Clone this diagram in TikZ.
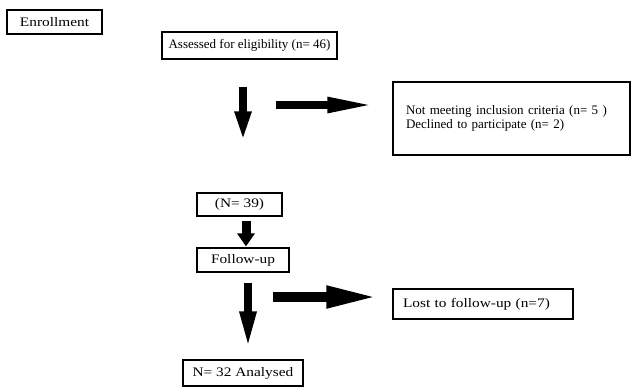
\documentclass[tikz,border=0pt]{standalone}
\usepackage{fontspec}
\setmainfont{Liberation Serif}
\newfontfamily\widefont[FakeStretch=1.18]{Liberation Serif}
\usetikzlibrary{arrows.meta}
\tikzset{
  box/.style={draw, line width=1.2pt, inner sep=0pt, font=\fontsize{13}{14.5}\selectfont},
  widebox/.style={box, font=\fontsize{13}{14.5}\widefont},
  downarrow/.style={line width=8pt, -{Triangle[length=30pt,width=15pt]}},
  sidearrow/.style={line width=8pt, -{Triangle[length=50pt,width=14pt]}},
}
\begin{document}
\begin{tikzpicture}[x=1pt,y=-1pt]
    \useasboundingbox (0,0) rectangle (639,388);
    \node [widebox, minimum width=95pt, minimum height=24pt] (enroll) at (54.5,22) {Enrollment};
    \node [box, minimum width=175pt, minimum height=27pt] (assess) at (249.5,45.5) {Assessed for eligibility (n= 46)};
    \node [box, text width=211pt, inner xsep=13pt, minimum height=73pt, align=left] (notmeet) at (511.5,118.5) {Not meeting inclusion criteria (n= 5 )\\Declined to participate (n= 2)};
    \node [widebox, minimum width=85pt, minimum height=23pt] (n39) at (239.5,204.5) {(N= 39)};
    \node [widebox, minimum width=92pt, minimum height=24pt] (follow) at (243,260) {Follow-up};
    \node [widebox, text width=160pt, inner xsep=10pt, align=left, minimum height=30pt] (lost) at (483,304) {Lost to follow-up (n=7)};
    \node [widebox, minimum width=120pt, minimum height=26pt] (n32) at (243,373) {N= 32 Analysed};
    \coordinate (branch1) at (276,105);
    \coordinate (branch2) at (273,297);
    % arrows
    \draw [downarrow, shorten <=27pt, shorten >=51pt] ([xshift=-6.5pt]assess.south) -- ([xshift=3.5pt]n39.north);
    \draw [sidearrow, shorten >=15pt] (branch1) -- ([yshift=13.5pt]notmeet.west);
    \draw [line width=9pt, -{Triangle[length=13pt,width=17pt]}, shorten <=4pt, shorten >=1pt] ([xshift=6.5pt]n39.south) -- ([xshift=3pt]follow.north);
    \draw [downarrow, -{Triangle[length=38pt,width=15pt]}, shorten <=10pt, shorten >=10pt] ([xshift=5pt]follow.south) -- ([xshift=5pt]n32.north);
    \draw [line width=10pt, -{Triangle[length=53pt,width=20pt]}, shorten >=13pt] (branch2) -- ([yshift=7pt]lost.west);
\end{tikzpicture}
\end{document}
